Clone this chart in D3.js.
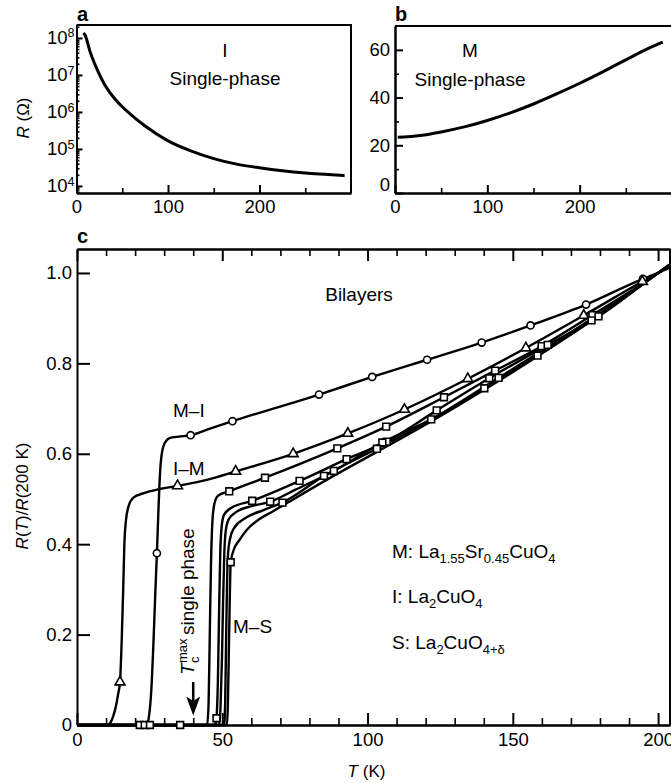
<!DOCTYPE html>
<html>
<head>
<meta charset="utf-8">
<script src="https://cdn.jsdelivr.net/npm/d3@7"></script>
<style>
  body { margin: 0; background: #fff; }
  svg { font-family: "Liberation Sans", Arial, Helvetica, sans-serif; }
  .axis path, .axis line { stroke: #000; stroke-width: 2; }
  .axis.minor line { stroke-width: 1.6; }
  .axis text { font-size: 18.5px; fill: #000; font-family: "Liberation Sans", Arial, sans-serif; }
  .frame { stroke: #000; stroke-width: 2; }
  .curve { fill: none; stroke: #000; stroke-linejoin: round; }
  .mark { fill: #fff; stroke: #000; stroke-width: 1.6; }
  .note { font-size: 19px; fill: #000; }
  .title { font-size: 17px; fill: #000; }
  .panel { font-size: 20px; font-weight: bold; fill: #000; }
</style>
</head>
<body>
<svg id="chart" width="671" height="783"></svg>
<script>
// ---------- data ----------

// a: single-phase I (La2CuO4), R in ohm vs T in K
const singleI = [
  [7.5, 1.35e8], [9.3, 1.2e8], [14.8, 4.27e7], [22, 1.51e7], [31, 5.37e6],
  [42, 2.24e6], [50, 1.38e6], [58.5, 8.9e5], [75, 4.17e5], [100, 1.66e5],
  [125, 8.9e4], [150, 5.5e4], [175, 3.9e4], [200, 3.1e4], [225, 2.57e4],
  [250, 2.24e4], [275, 2.04e4], [293, 1.9e4]
];

// b: single-phase M, R in ohm vs T in K
const singleM = [
  [3, 23.4], [10, 23.5], [25, 24.0], [50, 25.6], [75, 27.7], [100, 30.4],
  [125, 33.6], [150, 37.3], [175, 41.5], [200, 46.0], [225, 50.8], [250, 55.8],
  [275, 60.7], [290, 63.2]
];

// c: bilayers, R(T)/R(200 K)
const miCurve = [
  [0, 0], [24, 0], [24.8, 0.02], [25.6, 0.08], [26.3, 0.18], [27, 0.3], [27.5, 0.38],
  [28, 0.47], [28.6, 0.56], [29.3, 0.605], [30.3, 0.625], [32, 0.635], [35, 0.638],
  [39.1, 0.641], [45, 0.654], [53.5, 0.672], [83.3, 0.731], [101.6, 0.770],
  [120.5, 0.808], [139.3, 0.846], [156.1, 0.884], [175.2, 0.930], [194.8, 0.987],
  [200, 1.0], [205, 1.015]
];
const miMarks = [
  [27.5, 0.38], [39.1, 0.641], [53.5, 0.672], [83.3, 0.731], [101.6, 0.770],
  [120.5, 0.808], [139.3, 0.846], [156.1, 0.884], [175.2, 0.930], [194.8, 0.987]
];

const imCurve = [
  [0, 0], [10.5, 0], [11.5, 0.005], [12.5, 0.02], [13.5, 0.045], [14.2, 0.07],
  [14.8, 0.095], [15.4, 0.19], [15.9, 0.3], [16.3, 0.4], [16.8, 0.45], [17.8, 0.485],
  [19.4, 0.503], [23, 0.513], [28.5, 0.522], [34.6, 0.529], [45, 0.543],
  [54.6, 0.561], [74.4, 0.600], [93.2, 0.645], [112.7, 0.698], [134.5, 0.766],
  [154.5, 0.834], [174.4, 0.906], [194.6, 0.981], [200, 1.0], [205, 1.02]
];
const imMarks = [
  [14.8, 0.095], [34.6, 0.529], [54.6, 0.561], [74.4, 0.600], [93.2, 0.645],
  [112.7, 0.698], [134.5, 0.766], [154.5, 0.834], [174.4, 0.906], [194.6, 0.981]
];

const sq1Curve = [
  [0, 0], [44.8, 0], [45.3, 0.05], [45.7, 0.2], [46.1, 0.35], [46.6, 0.45],
  [47.3, 0.49], [48.5, 0.507], [52.4, 0.517], [64.7, 0.547], [89.6, 0.612],
  [106.4, 0.660], [126.3, 0.725], [143.9, 0.784], [159.9, 0.838], [177.4, 0.907],
  [200, 1.0], [205, 1.023]
];
const sq1Marks = [
  [35.5, 0], [52.4, 0.517], [64.7, 0.547], [89.6, 0.612], [106.4, 0.660],
  [126.3, 0.725], [143.9, 0.784], [159.9, 0.838], [177.4, 0.907]
];

const sq2Curve = [
  [0, 0], [47.5, 0], [48, 0.015], [48.5, 0.1], [48.9, 0.25], [49.3, 0.38],
  [49.8, 0.44], [50.6, 0.465], [53, 0.48], [60.3, 0.496], [76.6, 0.540],
  [92.8, 0.588], [106.6, 0.627], [123.8, 0.696], [141.9, 0.767], [162, 0.841],
  [179.5, 0.904], [200, 1.0], [205, 1.023]
];
const sq2Marks = [
  [21.6, 0], [48, 0.015], [60.3, 0.496], [76.6, 0.540], [92.8, 0.588],
  [106.6, 0.627], [123.8, 0.696], [141.9, 0.767], [162, 0.841], [179.5, 0.904]
];

const sq3Curve = [
  [0, 0], [48.9, 0], [49.4, 0.04], [49.9, 0.15], [50.3, 0.28], [50.7, 0.38],
  [51.2, 0.43], [52.2, 0.455], [55, 0.472], [60, 0.484], [66.5, 0.494], [75, 0.52],
  [88.4, 0.562], [105.1, 0.625], [121.9, 0.676], [140.2, 0.745], [158.5, 0.817],
  [177.1, 0.895], [200, 1.0], [205, 1.023]
];
const sq3Marks = [
  [23.3, 0], [66.5, 0.494], [88.4, 0.562], [105.1, 0.625], [121.9, 0.676],
  [140.2, 0.745], [158.5, 0.817], [177.1, 0.895]
];

const sq4Curve = [
  [0, 0], [50.6, 0], [51, 0.05], [51.3, 0.18], [51.6, 0.3], [51.9, 0.37],
  [52.6, 0.41], [54, 0.435], [58, 0.458], [64, 0.475], [70.7, 0.492], [85, 0.551],
  [103.2, 0.611], [121, 0.672], [145.1, 0.768], [160, 0.828], [177.4, 0.9],
  [200, 1.0], [205, 1.023]
];
const sq4Marks = [
  [25.1, 0], [70.7, 0.492], [85, 0.551], [103.2, 0.611], [145.1, 0.768]
];

// M-S
const sq5Curve = [
  [0, 0], [51.6, 0], [51.9, 0.04], [52.2, 0.14], [52.5, 0.25], [52.9, 0.36],
  [53.8, 0.385], [56, 0.41], [58.5, 0.432], [62, 0.452], [67.5, 0.473], [72, 0.49],
  [88, 0.55], [104, 0.607], [122, 0.672], [141, 0.745], [160, 0.822], [178, 0.898],
  [200, 1.0], [205, 1.023]
];
const sq5Marks = [[52.9, 0.36]];

// ticks
const aDecades = [1e4, 1e5, 1e6, 1e7, 1e8];
const abTicksX = [0, 100, 200];
const abMinorX = [50, 150, 250];
const bTicksY = [0, 20, 40, 60];
const bMinorY = [10, 30, 50];
const cTicksX = [0, 50, 100, 150, 200];
const cMinorX = [10, 20, 30, 40, 60, 70, 80, 90, 110, 120, 130, 140, 160, 170, 180, 190];
const cTicksY = [0, 0.2, 0.4, 0.6, 0.8, 1.0];
const tcMax = 40;  // T_c^max of single phase, K

// ---------- drawing ----------
const svg = d3.select("#chart");

// scales
const xA = d3.scaleLinear().domain([0, 300]).range([76.5, 351]);
const yA = d3.scaleLog().domain([Math.pow(10, 3.81), Math.pow(10, 8.35)]).range([193, 25]);
const xB = d3.scaleLinear().domain([0, 300]).range([395, 672]);
const yB = d3.scaleLinear().domain([0, 70]).range([193, 26]);
const xC = d3.scaleLinear().domain([0, 204.1]).range([77, 670]);
const yC = d3.scaleLinear().domain([0, 1.053]).range([725, 249]);

// log minor ticks for panel a
const aMinor = [];
for (let e = 3; e <= 8; e++) {
  for (let k = 2; k <= 9; k++) {
    const v = k * Math.pow(10, e);
    if (v >= yA.domain()[0] && v <= yA.domain()[1]) aMinor.push(v);
  }
}

// ---- panel a ----
svg.append("g").attr("class", "axis minor")
  .attr("transform", `translate(${xA(0)},0)`)
  .call(d3.axisLeft(yA).tickValues(aMinor).tickSizeInner(-3).tickSizeOuter(0).tickFormat(""));
const gAy = svg.append("g").attr("class", "axis")
  .attr("transform", `translate(${xA(0)},0)`)
  .call(d3.axisLeft(yA).tickValues(aDecades).tickSizeInner(-6).tickSizeOuter(0).tickPadding(2).tickFormat(""));
gAy.selectAll(".tick text").each(function(d) {
  const t = d3.select(this);
  t.text("10");
  t.append("tspan").attr("dy", "-0.55em").attr("font-size", "12.5px")
    .text(Math.round(Math.log10(d)));
});
svg.append("g").attr("class", "axis minor")
  .attr("transform", `translate(0,${yA.range()[0]})`)
  .call(d3.axisBottom(xA).tickValues(abMinorX).tickSizeInner(-5).tickSizeOuter(0).tickFormat(""));
svg.append("g").attr("class", "axis")
  .attr("transform", `translate(0,${yA.range()[0]})`)
  .call(d3.axisBottom(xA).tickValues(abTicksX).tickSizeInner(-8).tickSizeOuter(0).tickPadding(7));
svg.append("path").attr("class", "frame").attr("fill", "none")
  .attr("d", `M${xA(0)},${yA.range()[1]}H${xA(300)}V${yA.range()[0]}`);

svg.append("path").attr("class", "curve").attr("stroke-width", 3)
  .attr("d", d3.line().x(d => xA(d[0])).y(d => yA(d[1])).curve(d3.curveMonotoneX)(singleI));

svg.append("text").attr("class", "note").attr("x", 225).attr("y", 57).attr("text-anchor", "middle").text("I");
svg.append("text").attr("class", "note").attr("x", 225).attr("y", 85).attr("text-anchor", "middle").text("Single-phase");
svg.append("text").attr("class", "panel").attr("x", 77).attr("y", 21).text("a");
const tA = svg.append("text").attr("class", "title").attr("text-anchor", "middle")
  .attr("transform", "translate(29,118) rotate(-90)");
tA.append("tspan").attr("font-style", "italic").text("R");
tA.append("tspan").text(" (\u03A9)");

// ---- panel b ----
svg.append("g").attr("class", "axis minor")
  .attr("transform", `translate(${xB(0)},0)`)
  .call(d3.axisLeft(yB).tickValues(bMinorY).tickSizeInner(-4).tickSizeOuter(0).tickFormat(""));
const gBy = svg.append("g").attr("class", "axis")
  .attr("transform", `translate(${xB(0)},0)`)
  .call(d3.axisLeft(yB).tickValues(bTicksY).tickSizeInner(-8).tickSizeOuter(0).tickPadding(5));
gBy.selectAll(".tick text").filter(d => d === 0).attr("y", -8);
svg.append("g").attr("class", "axis minor")
  .attr("transform", `translate(0,${yB.range()[0]})`)
  .call(d3.axisBottom(xB).tickValues(abMinorX).tickSizeInner(-5).tickSizeOuter(0).tickFormat(""));
svg.append("g").attr("class", "axis")
  .attr("transform", `translate(0,${yB.range()[0]})`)
  .call(d3.axisBottom(xB).tickValues(abTicksX).tickSizeInner(-8).tickSizeOuter(0).tickPadding(7));
svg.append("path").attr("class", "frame").attr("fill", "none")
  .attr("d", `M${xB(0)},${yB(70)}H${xB(300)}`);

svg.append("path").attr("class", "curve").attr("stroke-width", 3)
  .attr("d", d3.line().x(d => xB(d[0])).y(d => yB(d[1])).curve(d3.curveMonotoneX)(singleM));

svg.append("text").attr("class", "note").attr("x", 470).attr("y", 57).attr("text-anchor", "middle").text("M");
svg.append("text").attr("class", "note").attr("x", 470).attr("y", 86).attr("text-anchor", "middle").text("Single-phase");
svg.append("text").attr("class", "panel").attr("x", 395).attr("y", 21).text("b");

// ---- panel c ----
svg.append("clipPath").attr("id", "clipC").append("rect")
  .attr("x", xC(0)).attr("y", yC(1.053) - 10)
  .attr("width", xC(204.1) - xC(0)).attr("height", yC(0) - yC(1.053) + 20);

svg.append("g").attr("class", "axis minor")
  .attr("transform", `translate(0,${yC(0)})`)
  .call(d3.axisBottom(xC).tickValues(cMinorX).tickSizeInner(-7).tickSizeOuter(0).tickFormat(""));
svg.append("g").attr("class", "axis")
  .attr("transform", `translate(0,${yC(0)})`)
  .call(d3.axisBottom(xC).tickValues(cTicksX).tickSizeInner(-12).tickSizeOuter(0).tickPadding(8));
svg.append("g").attr("class", "axis minor")
  .attr("transform", `translate(0,${yC(1.053)})`)
  .call(d3.axisTop(xC).tickValues(cMinorX).tickSizeInner(-7).tickSizeOuter(0).tickFormat(""));
svg.append("g").attr("class", "axis")
  .attr("transform", `translate(0,${yC(1.053)})`)
  .call(d3.axisTop(xC).tickValues(cTicksX).tickSizeInner(-12).tickSizeOuter(0).tickFormat(""));
svg.append("g").attr("class", "axis")
  .attr("transform", `translate(${xC(0)},0)`)
  .call(d3.axisLeft(yC).tickValues(cTicksY).tickSizeInner(-13).tickSizeOuter(0).tickPadding(5)
    .tickFormat(d => d === 0 ? "0" : d3.format(".1f")(d)));
svg.append("line").attr("class", "frame").attr("stroke-width", 1.5)
  .attr("x1", xC(204.1)).attr("x2", xC(204.1)).attr("y1", yC(1.053)).attr("y2", yC(0));

const lineC = d3.line().x(d => xC(d[0])).y(d => yC(d[1])).curve(d3.curveMonotoneX);
const plotC = svg.append("g").attr("clip-path", "url(#clipC)");

const seriesC = [
  { curve: miCurve, marks: miMarks, shape: "circle" },
  { curve: imCurve, marks: imMarks, shape: "triangle" },
  { curve: sq1Curve, marks: sq1Marks, shape: "square" },
  { curve: sq2Curve, marks: sq2Marks, shape: "square" },
  { curve: sq3Curve, marks: sq3Marks, shape: "square" },
  { curve: sq4Curve, marks: sq4Marks, shape: "square" },
  { curve: sq5Curve, marks: sq5Marks, shape: "square" }
];

seriesC.forEach(s => {
  plotC.append("path").attr("class", "curve").attr("stroke-width", 2.4).attr("d", lineC(s.curve));
});

const symbolOf = { circle: d3.symbolCircle, square: d3.symbolSquare, triangle: d3.symbolTriangle };
const sizeOf = { circle: 40, square: 46, triangle: 42 };
seriesC.forEach(s => {
  plotC.selectAll(null)
    .data(s.marks)
    .enter()
    .append("path")
    .attr("class", "mark")
    .attr("transform", d => `translate(${xC(d[0])},${yC(d[1])})`)
    .attr("d", d3.symbol().type(symbolOf[s.shape]).size(sizeOf[s.shape]));
});

// T_c^max arrow
const ax = xC(tcMax);
svg.append("line").attr("stroke", "#000").attr("stroke-width", 2.5)
  .attr("x1", ax).attr("x2", ax).attr("y1", yC(0.095)).attr("y2", yC(0.05));
svg.append("path").attr("fill", "#000")
  .attr("d", `M${ax},${yC(0.021)}L${ax - 7},${yC(0.063)}L${ax},${yC(0.053)}L${ax + 7},${yC(0.063)}Z`);

const tc = svg.append("g").attr("transform", `translate(${ax + 1},675) rotate(-90)`);
tc.append("text").attr("class", "note").attr("font-style", "italic").attr("x", 0).attr("y", 0).text("T");
tc.append("text").attr("font-size", "13px").attr("x", 12).attr("y", 5).text("c");
tc.append("text").attr("font-size", "13px").attr("x", 12).attr("y", -7).text("max");
tc.append("text").attr("class", "note").attr("x", 40).attr("y", 0).text("single phase");

// labels
svg.append("text").attr("class", "panel").attr("x", 77).attr("y", 243).text("c");
svg.append("text").attr("class", "note").attr("x", 359).attr("y", 301).attr("text-anchor", "middle").text("Bilayers");
svg.append("text").attr("class", "note").attr("x", 173).attr("y", 417).text("M\u2013I");
svg.append("text").attr("class", "note").attr("x", 173).attr("y", 475).text("I\u2013M");
svg.append("text").attr("class", "note").attr("x", 233).attr("y", 633).text("M\u2013S");

function formula(x, y, parts) {
  const t = svg.append("text").attr("class", "note").attr("x", x).attr("y", y);
  let shifted = false;
  parts.forEach(p => {
    const sub = p[1] === "sub";
    const ts = t.append("tspan").text(p[0]);
    if (sub && !shifted) { ts.attr("dy", 5); shifted = true; }
    else if (!sub && shifted) { ts.attr("dy", -5); shifted = false; }
    if (sub) ts.attr("font-size", "13px");
  });
}
formula(392, 558, [["M: La"], ["1.55", "sub"], ["Sr"], ["0.45", "sub"], ["CuO"], ["4", "sub"]]);
formula(392, 603, [["I: La"], ["2", "sub"], ["CuO"], ["4", "sub"]]);
formula(392, 649, [["S: La"], ["2", "sub"], ["CuO"], ["4+\u03B4", "sub"]]);

const tC = svg.append("text").attr("class", "title").attr("text-anchor", "middle")
  .attr("transform", "translate(28,496) rotate(-90)");
tC.append("tspan").attr("font-style", "italic").text("R");
tC.append("tspan").text("(");
tC.append("tspan").attr("font-style", "italic").text("T");
tC.append("tspan").text(")/");
tC.append("tspan").attr("font-style", "italic").text("R");
tC.append("tspan").text("(200 K)");

const tX = svg.append("text").attr("class", "title").attr("text-anchor", "middle")
  .attr("x", 366.5).attr("y", 777);
tX.append("tspan").attr("font-style", "italic").text("T");
tX.append("tspan").text(" (K)");
</script>
</body>
</html>
